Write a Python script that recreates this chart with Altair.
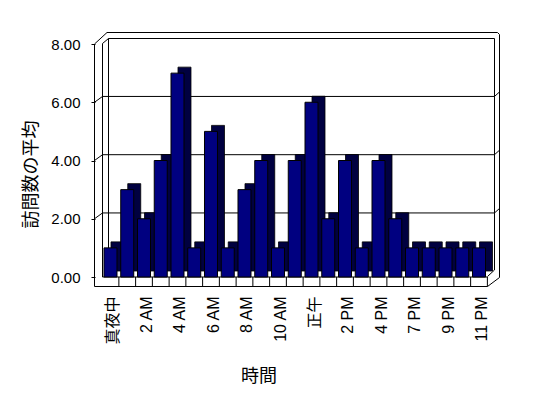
import altair as alt
import pandas as pd

# ---- data ----
hours = ["真夜中", "1 AM", "2 AM", "3 AM", "4 AM", "5 AM", "6 AM", "7 AM", "8 AM",
         "9 AM", "10 AM", "11 AM", "正午", "1 PM", "2 PM", "3 PM", "4 PM", "5 PM",
         "7 PM", "8 PM", "9 PM", "10 PM", "11 PM"]
visits = [1, 3, 2, 4, 7, 1, 5, 1, 3, 4, 1, 4, 6, 2, 4, 1, 4, 2, 1, 1, 1, 1, 1]
y_ticks = [0, 2, 4, 6, 8]
grid_values = [2, 4, 6]
shown_labels = hours[::2]

df = pd.DataFrame({"hour": hours, "visits": visits})
grid_df = pd.DataFrame({"v": grid_values})
one = pd.DataFrame({"a": [0]})

W, H = 393, 233
OX, OY = 95, 44          # page position of the plot origin
FONT = "Liberation Sans, Arial, Noto Sans CJK JP"
CJK = "Noto Sans CJK JP"
DEPTH_X, DEPTH_Y = 7, -6
BACK_DY = -5.8

x_scale = alt.Scale(domain=hours, paddingInner=0, paddingOuter=0.231, align=0.92)
y_scale = alt.Scale(domain=[0, 8], nice=False, zero=True)

x_enc = alt.X("hour:N", sort=hours, scale=x_scale,
              axis=alt.Axis(values=shown_labels, labelAngle=270, labelFontSize=16,
                            labelFont=FONT, labelColor="black", labelPadding=19,
                            labelOffset=3, labelOverlap=False, domain=False,
                            ticks=False, grid=False, title="時間", titleFont=CJK,
                            titleFontSize=18, titleFontWeight="normal",
                            titleColor="black", titleX=163.5, titleY=99,
                            titleAlign="center", titleBaseline="middle"))
y_enc = alt.Y("visits:Q", scale=y_scale,
              axis=alt.Axis(values=y_ticks, format=".2f", labelFontSize=15,
                            labelFont=FONT, labelColor="black", labelPadding=11,
                            tickSize=4, tickColor="black", domain=False, grid=False,
                            title="訪問数の平均", titleFont=CJK, titleFontSize=18,
                            titleFontWeight="normal", titleColor="black",
                            titleAngle=270, titleX=-64, titleY=130,
                            titleAlign="center", titleBaseline="middle"))


def seg(x1, y1, x2, y2):
    return alt.Chart(one).mark_rule(color="black", strokeWidth=1).encode(
        x=alt.value(x1 - OX), y=alt.value(y1 - OY),
        x2=alt.value(x2 - OX), y2=alt.value(y2 - OY))


frame = [
    seg(94.5, 44, 94.5, 286.5),      # left wall outer edge
    seg(102.5, 43.5, 102.5, 277),    # left wall inner edge
    seg(94.5, 44, 107, 32.5),        # top-left outer diagonal
    seg(102.5, 43.5, 108.5, 38.5),   # top-left inner diagonal
    seg(107, 32.5, 497.5, 32.5),     # back wall top outer
    seg(108.5, 38.5, 494.5, 38.5),   # back wall top inner
    seg(108.5, 38.5, 108.5, 271),    # back wall left edge
    seg(494.5, 38.5, 494.5, 270),    # back wall right edge
    seg(497.5, 32.5, 499.5, 34.5),   # top-right small diagonal
    seg(499.5, 34.5, 499.5, 277.5),  # right wall outer edge
    seg(487.5, 276.5, 494.5, 270),   # floor back-right diagonal
    seg(487.5, 286.5, 499.5, 277.5), # floor front-right diagonal
    seg(102.5, 277, 487.5, 277),     # floor top edge
    seg(94.5, 286.5, 487.5, 286.5),  # floor front edge
]

grid_lines = alt.Chart(grid_df).mark_rule(color="black", strokeWidth=1,
                                          yOffset=BACK_DY).encode(
    y=alt.Y("v:Q", scale=y_scale), x=alt.value(102.5 - OX), x2=alt.value(494.5 - OX))
grid_left = alt.Chart(grid_df).mark_rule(color="black", strokeWidth=1,
                                         y2Offset=BACK_DY).encode(
    y=alt.Y("v:Q", scale=y_scale), y2=alt.Y2("v"),
    x=alt.value(94.5 - OX), x2=alt.value(102.5 - OX))
grid_right = alt.Chart(grid_df).mark_rule(color="black", strokeWidth=1,
                                          yOffset=BACK_DY, y2Offset=BACK_DY - 4.5).encode(
    y=alt.Y("v:Q", scale=y_scale), y2=alt.Y2("v"),
    x=alt.value(494.5 - OX), x2=alt.value(499.5 - OX))

dividers = alt.Chart(df).mark_rule(color="black", strokeWidth=1, xOffset=8.375).encode(
    x=alt.X("hour:N", sort=hours, scale=x_scale),
    y=alt.value(H), y2=alt.value(H + 9.5))

shadow = alt.Chart(df).mark_bar(width=13, color="#000040", stroke="black",
                                strokeWidth=0.8, xOffset=DEPTH_X, x2Offset=DEPTH_X,
                                yOffset=DEPTH_Y, y2Offset=DEPTH_Y).encode(
    x=alt.X("hour:N", sort=hours, scale=x_scale), y=alt.Y("visits:Q", scale=y_scale))

front = alt.Chart(df).mark_bar(width=13, color="#000080", stroke="black",
                               strokeWidth=1).encode(x=x_enc, y=y_enc)

chart = alt.layer(*frame, grid_lines, grid_left, grid_right, dividers, shadow, front).properties(
    width=W, height=H,
    autosize=alt.AutoSizeParams(type="none"),
    padding={"left": 87, "top": 36, "right": 40, "bottom": 110},
    background="white",
).configure_view(strokeWidth=0)

chart.save("out.html", embed_options={"renderer": "svg", "actions": False})
